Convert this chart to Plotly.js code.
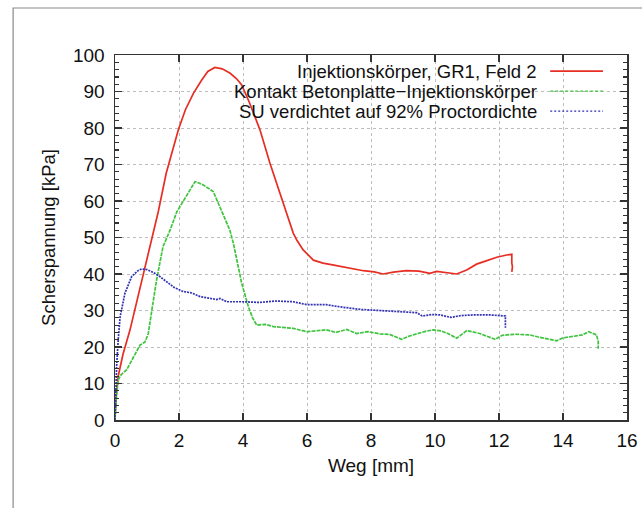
<!DOCTYPE html>
<html>
<head>
<meta charset="utf-8">
<script src="https://cdn.plot.ly/plotly-3.0.1.min.js"></script>
<style>html,body{margin:0;padding:0;background:#fff;}#chart{width:642px;height:508px;}</style>
</head>
<body>
<div id="chart"></div>
<script>
// Series names
const seriesNames = [
  "Injektionskörper, GR1, Feld 2",
  "Kontakt Betonplatte\u2212Injektionskörper",
  "SU verdichtet auf 92% Proctordichte"
];
// Series 1: Injektionskörper (Weg [mm], Scherspannung [kPa])
const redX = [0, 0.03, 0.1, 0.25, 0.47, 0.7, 0.9, 1.15, 1.35, 1.6, 1.8, 1.98, 2.2, 2.45, 2.7, 2.9, 3.12, 3.35, 3.6, 3.8, 3.96, 4.2, 4.53, 4.84, 5.16, 5.4, 5.57, 5.68, 5.88, 6.2, 6.5, 6.8, 7.2, 7.76, 8.1, 8.38, 8.7, 9.1, 9.5, 9.84, 10.05, 10.4, 10.68, 10.99, 11.3, 11.6, 11.93, 12.24, 12.4, 12.4, 12.42, 12.4];
const redY = [0.5, 6, 12, 18, 24.7, 33, 40.5, 49.3, 57, 67.6, 74, 79.5, 85, 89.5, 93, 95.5, 96.6, 96.2, 95, 93.5, 91.8, 87, 79.5, 70.4, 62, 55.5, 51.2, 49.3, 46.6, 43.8, 43, 42.5, 41.8, 40.9, 40.6, 40, 40.5, 40.9, 40.8, 40.2, 40.7, 40.4, 40, 41.1, 42.7, 43.6, 44.6, 45.2, 45.4, 43, 42, 40.6];
// Series 2: Kontakt Betonplatte-Injektionskörper
const greenX = [0, 0.03, 0.1, 0.2, 0.36, 0.57, 0.78, 0.94, 1.04, 1.15, 1.3, 1.5, 1.72, 1.93, 2.1, 2.29, 2.5, 2.6, 2.76, 3.07, 3.2, 3.39, 3.59, 3.7, 3.96, 4.17, 4.3, 4.43, 4.7, 4.95, 5.3, 5.57, 5.99, 6.3, 6.6, 6.9, 7.24, 7.55, 7.9, 8.28, 8.6, 8.96, 9.2, 9.43, 9.7, 9.95, 10.2, 10.4, 10.68, 10.99, 11.4, 11.88, 12.1, 12.5, 12.97, 13.2, 13.5, 13.8, 14.0, 14.3, 14.6, 14.8, 15.05, 15.1, 15.1];
const greenY = [0, 5, 11, 12.5, 13.7, 17.3, 20.5, 21.4, 23.7, 30, 38.4, 47.5, 52, 57, 59.5, 62, 65.3, 65, 64.4, 62.6, 60, 55.7, 52, 48.4, 37.4, 31, 28, 26, 26.2, 25.6, 25.3, 25.1, 24.2, 24.5, 24.7, 24, 24.8, 23.7, 24.2, 23.6, 23.4, 22.1, 23, 23.6, 24.3, 24.7, 24.4, 23.7, 22.4, 24.5, 23.7, 22.1, 23.2, 23.5, 23.3, 22.8, 22.3, 21.7, 22.5, 23, 23.3, 24.2, 23.3, 21.5, 19.5];
// Series 3: SU verdichtet auf 92% Proctordichte
const blueX = [0, 0.02, 0.05, 0.1, 0.16, 0.31, 0.52, 0.7, 0.83, 1.0, 1.2, 1.4, 1.6, 1.85, 2.13, 2.4, 2.66, 3.0, 3.18, 3.28, 3.49, 4.0, 4.53, 5.0, 5.57, 6.0, 6.6, 7.03, 7.66, 8.07, 8.7, 9.43, 9.6, 9.9, 10.15, 10.5, 10.8, 11.2, 11.7, 12.13, 12.2, 12.2, 12.2];
const blueY = [0, 8, 14.6, 22, 28.3, 34.7, 39.3, 40.8, 41.4, 41.2, 40.4, 39.3, 37.9, 36.3, 35.2, 34.8, 33.8, 33.3, 33, 33.3, 32.4, 32.4, 32.2, 32.6, 32.4, 31.6, 31.6, 31, 30.3, 30.1, 29.8, 29.4, 28.5, 28.9, 28.8, 28.1, 28.6, 28.8, 28.8, 28.5, 28.5, 26.5, 25.3];

const colors = ['#e62e24', '#3fc43f', '#3232b4'];
const dashes = ['solid', '4px,1px', '2px,1px'];
const legendDashes = ['solid', '3px,2px', '2px,2px'];

const traces = [
  {x: redX, y: redY, name: seriesNames[0], mode: 'lines', line: {color: colors[0], width: 1.7, dash: dashes[0]}},
  {x: greenX, y: greenY, name: seriesNames[1], mode: 'lines', line: {color: colors[1], width: 1.7, dash: dashes[1]}},
  {x: blueX, y: blueY, name: seriesNames[2], mode: 'lines', line: {color: colors[2], width: 1.7, dash: dashes[2]}}
];

const font = {family: '"Liberation Sans", Arial, sans-serif', color: '#111'};
const legendRowsY = [0.956, 0.901, 0.846];
const annotations = seriesNames.map((n, i) => ({
  xref: 'paper', yref: 'paper', x: 0.826, y: legendRowsY[i], xanchor: 'right', yanchor: 'middle',
  text: n, showarrow: false, borderpad: 0, font: Object.assign({}, font, {size: 18.5})
}));
const shapes = [
  // opaque key area hiding the grid
  {type: 'rect', xref: 'paper', yref: 'paper', x0: 0, x1: 1, y0: 0.818, y1: 1, fillcolor: '#fff', line: {width: 0}, layer: 'between'},
  // outer frame
  {type: 'rect', xref: 'paper', yref: 'paper', x0: -0.199, x1: 1.2, y0: -0.4, y1: 1.1288, fillcolor: 'rgba(0,0,0,0)', line: {color: '#8a8a8a', width: 1.2}, layer: 'below'}
].concat(seriesNames.map((n, i) => ({
  type: 'line', xref: 'paper', yref: 'paper', x0: 0.85, x1: 0.953, y0: legendRowsY[i], y1: legendRowsY[i],
  line: {color: colors[i], width: i === 0 ? 1.7 : 1.3, dash: legendDashes[i]}
})));

const axisCommon = {
  showline: true, linecolor: '#333', linewidth: 1.5, mirror: 'ticks',
  ticks: 'inside', ticklen: 7, tickcolor: '#333', tickwidth: 1.2,
  showgrid: true, gridcolor: '#bdbdbd', griddash: 'dot', gridwidth: 1,
  zeroline: false, tickfont: Object.assign({}, font, {size: 19})
};

const layout = {
  width: 642, height: 508,
  margin: {l: 115, r: 15, t: 55, b: 88},
  paper_bgcolor: '#fff', plot_bgcolor: '#fff',
  showlegend: false,
  font: font,
  xaxis: Object.assign({}, axisCommon, {
    range: [0, 16], dtick: 2, tick0: 0, ticklabelstandoff: 3,
    title: {text: 'Weg [mm]', font: Object.assign({}, font, {size: 19}), standoff: 8}
  }),
  yaxis: Object.assign({}, axisCommon, {
    range: [0, 100], dtick: 10, tick0: 0, ticklabelstandoff: 5,
    minor: {dtick: 2, ticks: 'inside', ticklen: 4, tickcolor: '#333', showgrid: false},
    title: {text: 'Scherspannung [kPa]', font: Object.assign({}, font, {size: 18.5}), standoff: 12}
  }),
  annotations: annotations,
  shapes: shapes
};

Plotly.newPlot('chart', traces, layout, {staticPlot: true, displayModeBar: false});
</script>
</body>
</html>
